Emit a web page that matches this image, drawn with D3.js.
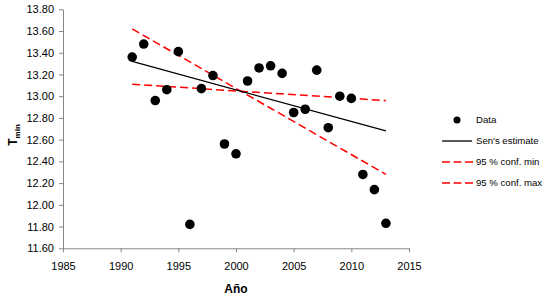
<!DOCTYPE html>
<html><head><meta charset="utf-8">
<script src="https://cdn.jsdelivr.net/npm/d3@7"></script>
<style>body{margin:0;background:#fff}svg{display:block}text{font-family:"Liberation Sans",Arial,sans-serif}</style>
</head><body><svg id="c" width="547" height="299"></svg>
<script>
const years = [1991,1992,1993,1994,1995,1996,1997,1998,1999,2000,2001,2002,2003,2004,2005,2006,2007,2008,2009,2010,2011,2012,2013];
const tmin = [13.36,13.48,12.96,13.06,13.41,11.82,13.07,13.19,12.56,12.47,13.14,13.26,13.28,13.21,12.85,12.88,13.24,12.71,13.00,12.98,12.28,12.14,11.83];
const lineYears = [1991, 2013];
const sen = [13.32, 12.68];
const confMin = [13.62, 12.28];
const confMax = [13.11, 12.96];
const xTicks = [1985,1990,1995,2000,2005,2010,2015];
const yTicks = [11.6,11.8,12.0,12.2,12.4,12.6,12.8,13.0,13.2,13.4,13.6,13.8];
const legendLabels = ["Data","Sen's estimate","95 % conf. min","95 % conf. max"];

const svg = d3.select("#c");
const x = d3.scaleLinear().domain([1985,2015]).range([63,409]);
const y = d3.scaleLinear().domain([11.6,13.8]).range([248.3,9.3]);
const axisColor = "#868686";

const gx = svg.append("g").attr("transform",`translate(0,${y(11.6)})`)
  .call(d3.axisBottom(x).tickValues(xTicks).tickFormat(d3.format("d")).tickSize(4).tickSizeOuter(0));
const gy = svg.append("g").attr("transform",`translate(${x(1985)},0)`)
  .call(d3.axisLeft(y).tickValues(yTicks).tickFormat(d3.format(".2f")).tickSize(4).tickSizeOuter(0));
[gx,gy].forEach(g=>{
  g.selectAll("path,line").attr("stroke",axisColor);
  g.selectAll("text").attr("fill","#000").style("font-size","11px").style("font-family","'Liberation Sans',Arial,sans-serif");
});
gx.selectAll("text").attr("dy","1.3em");
gy.selectAll("text").attr("dx","-2");

const line = d3.line().x(d=>x(d[0])).y(d=>y(d[1]));
const mk = arr => lineYears.map((yr,i)=>[yr,arr[i]]);
svg.append("path").attr("d",line(mk(confMin))).attr("fill","none").attr("stroke","#ff0000").attr("stroke-width",1.5).attr("stroke-dasharray","8,4");
svg.append("path").attr("d",line(mk(confMax))).attr("fill","none").attr("stroke","#ff0000").attr("stroke-width",1.5).attr("stroke-dasharray","8,4");
svg.append("path").attr("d",line(mk(sen))).attr("fill","none").attr("stroke","#000").attr("stroke-width",1.3);

svg.append("g").selectAll("circle").data(years).join("circle")
  .attr("cx",(d)=>x(d)).attr("cy",(d,i)=>y(tmin[i])).attr("r",4.8).attr("fill","#000");

// axis titles
svg.append("text").attr("x",x(2000)).attr("y",293).attr("text-anchor","middle")
  .style("font-weight","bold").style("font-size","12px").text("Año");
const yt = svg.append("text").attr("transform","translate(17,135) rotate(-90)").attr("text-anchor","middle")
  .style("font-weight","bold").style("font-size","12px");
yt.append("tspan").text("T");
yt.append("tspan").attr("dy","3").style("font-size","8px").text("min");

// legend
const lg = svg.append("g");
const ly = [120,141,162,183];
lg.append("circle").attr("cx",457).attr("cy",ly[0]).attr("r",3.5).attr("fill","#000");
lg.append("line").attr("x1",442).attr("x2",472).attr("y1",ly[1]).attr("y2",ly[1]).attr("stroke","#000").attr("stroke-width",1.3);
[2,3].forEach(k=>lg.append("line").attr("x1",442).attr("x2",473).attr("y1",ly[k]).attr("y2",ly[k])
  .attr("stroke","#ff0000").attr("stroke-width",1.5).attr("stroke-dasharray","8,3.5"));
legendLabels.forEach((t,i)=>lg.append("text").attr("x",476).attr("y",ly[i]).attr("dy","0.35em")
  .style("font-size","9.6px").text(t));
</script></body></html>
